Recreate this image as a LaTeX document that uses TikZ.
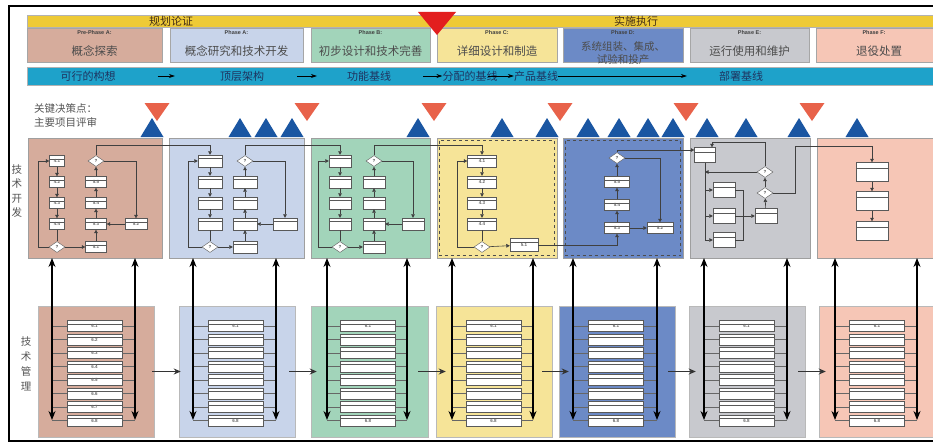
\documentclass[tikz,border=0pt]{standalone}
\usepackage{fontspec}
\setmainfont{Liberation Sans}
\newfontfamily\cjk{Noto Sans CJK SC}
\usepackage{xcolor}
\definecolor{phpre}{RGB}{214,172,156}
\definecolor{pha}{RGB}{200,212,234}
\definecolor{phb}{RGB}{162,212,186}
\definecolor{phc}{RGB}{246,228,152}
\definecolor{phd}{RGB}{108,138,198}
\definecolor{phe}{RGB}{200,201,206}
\definecolor{phf}{RGB}{246,198,182}
\definecolor{baryellow}{RGB}{238,202,54}
\definecolor{barblue}{RGB}{30,162,202}
\definecolor{kdpred}{RGB}{232,98,74}
\definecolor{kdpblue}{RGB}{26,86,162}
\definecolor{toptri}{RGB}{226,30,30}
\definecolor{bartext}{RGB}{30,52,96}
\definecolor{labgray}{RGB}{85,85,85}
\usetikzlibrary{arrows.meta, positioning, shapes.geometric, calc}

\tikzset{
  phasebox/.style={draw=gray!70, line width=0.5pt, minimum height=34pt, inner sep=0pt},
  phasetag/.style={font=\fontsize{5.5}{6}\selectfont\bfseries, text=black!75},
  phasename/.style={font=\cjk\fontsize{11.5}{13}\selectfont, text=black!70, align=center},
  bartxt/.style={font=\cjk\fontsize{11}{13}\selectfont, text=bartext, inner sep=0pt},
  devbox/.style={draw=gray!75, line width=0.6pt, minimum height=120pt, inner sep=0pt},
  mgtbox/.style={draw=gray!55, line width=0.5pt, minimum height=131pt, inner sep=0pt},
  flowbox/.style={draw=gray!70!black, fill=white, line width=0.4pt, inner sep=0pt,
    minimum width=22pt, minimum height=12pt, font=\fontsize{4.5}{5}\selectfont\bfseries, text=black!60,
    path picture={\draw[gray!70!black, line width=0.3pt]
      ($(path picture bounding box.north west)!0.3!(path picture bounding box.south west)$) --
      ($(path picture bounding box.north east)!0.3!(path picture bounding box.south east)$);}},
  flowdiam/.style={diamond, draw=gray!70!black, fill=white, line width=0.4pt, inner sep=0pt,
    minimum width=16pt, minimum height=11pt, font=\fontsize{4.5}{5}\selectfont\bfseries, text=black!70},
  flow/.style={draw=black!75, line width=0.6pt, -{Triangle[length=3.5pt, width=3.6pt]}},
  flowline/.style={draw=black!75, line width=0.6pt},
  mgtrow/.style={flowbox, minimum width=55pt, minimum height=11pt},
  rungline/.style={draw=black!60, line width=0.5pt},
  devarrow/.style={draw=black, line width=1.1pt, {Stealth[length=9pt, width=7pt]}-{Stealth[length=9pt, width=7pt]}},
  steparrow/.style={draw=black!80, line width=0.8pt, -{Stealth[length=7pt, width=6pt]}},
  bararrow/.style={draw=black, line width=0.6pt, -{Stealth[length=6pt, width=4pt]}},
  sidelab/.style={font=\cjk\fontsize{10.5}{14.5}\selectfont, text=labgray, align=center, inner sep=0pt}
}

\begin{document}
\begin{tikzpicture}[x=1pt, y=-1pt]
  \useasboundingbox (0,0) rectangle (933,444);
  \clip (0,0) rectangle (933,444);
  \fill[white] (0,0) rectangle (933,444);

  % Outer frame
  \draw[black, line width=1.6pt] (9,6) rectangle (948,441);

  % Stage bar
  \draw[fill=baryellow, draw=gray!60] (27,15) rectangle (948,27);
  \node[font=\cjk\fontsize{11}{12}\selectfont, text=black!65!brown, inner sep=0pt] (yb1) at (171,21) {规划论证};
  \node[font=\cjk\fontsize{11}{12}\selectfont, text=black!65!brown, inner sep=0pt] (yb2) at (636,21) {实施执行};

  % Phase headers
  \node[phasebox, fill=phpre, minimum width=135pt] (ph1) at (94.5,45) {};
  \node[phasebox, fill=pha, minimum width=133pt] (ph2) at (236.5,45) {};
  \node[phasebox, fill=phb, minimum width=119pt] (ph3) at (370.5,45) {};
  \node[phasebox, fill=phc, minimum width=120pt] (ph4) at (497,45) {};
  \node[phasebox, fill=phd, minimum width=120pt] (ph5) at (623,45) {};
  \node[phasebox, fill=phe, minimum width=119pt] (ph6) at (749.5,45) {};
  \node[phasebox, fill=phf, minimum width=129pt] (ph7) at (880.5,45) {};
  \node[phasetag] (pt1) at (94.5,33) {Pre-Phase A:};
  \node[phasetag] (pt2) at (236.5,33) {Phase A:};
  \node[phasetag] (pt3) at (370.5,33) {Phase B:};
  \node[phasetag] (pt4) at (497,33) {Phase C:};
  \node[phasetag] (pt5) at (623,33) {Phase D:};
  \node[phasetag] (pt6) at (749.5,33) {Phase E:};
  \node[phasetag] (pt7) at (874,33) {Phase F:};
  \node[phasename] (pn1) at (94.5,51) {概念探索};
  \node[phasename] (pn2) at (236.5,51) {概念研究和技术开发};
  \node[phasename] (pn3) at (370.5,51) {初步设计和技术完善};
  \node[phasename] (pn4) at (497,51) {详细设计和制造};
  \node[phasename, font=\cjk\fontsize{10.5}{13}\selectfont] (pn5) at (623,53.5) {系统组装、集成、\\试验和投产};
  \node[phasename] (pn6) at (749.5,51) {运行使用和维护};
  \node[phasename] (pn7) at (879,51) {退役处置};

  % Transition marker
  \fill[toptri] (418,12) -- (456,12) -- (437,35) -- cycle;

  % Baseline bar
  \draw[fill=barblue, draw=gray!60] (27,67) rectangle (948,85);
  \node[bartxt] (bl1) at (88,76) {可行的构想};
  \node[bartxt] (bl2) at (242,76) {顶层架构};
  \node[bartxt] (bl3) at (369,76) {功能基线};
  \node[bartxt] (bl4) at (470,76) {分配的基线};
  \node[bartxt] (bl5) at (536,76) {产品基线};
  \node[bartxt] (bl6) at (741,76) {部署基线};
  \draw[bararrow, shorten <=42pt, shorten >=45pt] (bl1) -- (bl2);
  \draw[bararrow, shorten <=33pt, shorten >=30pt] (bl2) -- (bl3);
  \draw[bararrow, shorten <=32pt] (bl3) -- (bl4);
  \draw[bararrow, shorten <=-10pt] (bl4) -- (bl5);
  \draw[bararrow, shorten >=32pt] (bl5) -- (bl6);

  % Key decision points
  \node[sidelab, anchor=west, align=left] (kdp) at (34,115.5) {关键决策点：\\主要项目评审};
  \foreach \x in {152,240,266,292,418,502,547,588,619,648,673,707,746,799,857}
    \fill[kdpblue] (\x-11.5,137) -- (\x+11.5,137) -- (\x,118) -- cycle;
  \foreach \x in {157,307,434,560,686,812}
    \fill[kdpred] (\x-12.5,103) -- (\x+12.5,103) -- (\x,121) -- cycle;

  % Side labels
  \node[sidelab] (lab1) at (17,191) {技\\术\\开\\发};
  \node[sidelab, font=\cjk\fontsize{10.5}{15}\selectfont] (lab2) at (26,364) {技\\术\\管\\理};

  % Technical development boxes
  \node[devbox, fill=phpre, minimum width=134pt] (ub1) at (95,198) {};
  \node[devbox, fill=pha, minimum width=135pt] (ub2) at (236.5,198) {};
  \node[devbox, fill=phb, minimum width=119pt] (ub3) at (370.5,198) {};
  \node[devbox, fill=phc, minimum width=120pt] (ub4) at (497,198) {};
  \node[devbox, fill=phd, minimum width=120pt] (ub5) at (623,198) {};
  \node[devbox, fill=phe, minimum width=120pt] (ub6) at (750,198) {};
  \node[devbox, fill=phf, minimum width=128pt] (ub7) at (881,198) {};
  \draw[black!70, dashed, line width=0.7pt] (439.5,140.5) rectangle (554.5,255.5);
  \draw[black!70, dashed, line width=0.7pt] (565.5,140.5) rectangle (680.5,255.5);

  % Pre-Phase A flow
  \node[flowbox, minimum width=15pt, minimum height=11pt] (a11) at (57,161) {4.1};
  \node[flowbox, minimum width=15pt, minimum height=11pt] (a12) at (57,182) {4.2};
  \node[flowbox, minimum width=15pt, minimum height=11pt] (a13) at (57,203) {4.3};
  \node[flowbox, minimum width=15pt, minimum height=11pt] (a14) at (57,224) {4.4};
  \node[flowdiam] (db1) at (57,247) {?};
  \node[flowbox, minimum width=21pt, minimum height=11pt] (r11) at (96,247) {5.1};
  \node[flowbox, minimum width=21pt, minimum height=11pt] (r13) at (96,224) {5.3};
  \node[flowbox, minimum width=21pt, minimum height=11pt] (r14) at (96,203) {5.4};
  \node[flowbox, minimum width=21pt, minimum height=11pt] (r15) at (96,182) {5.5};
  \node[flowdiam] (dt1) at (96,161) {?};
  \node[flowbox, minimum width=22pt, minimum height=11pt] (r12) at (136,224) {5.2};
  \draw[flow] (a11) -- (a12);
  \draw[flow] (a12) -- (a13);
  \draw[flow] (a13) -- (a14);
  \draw[flowline] (a14) -- (db1);
  \draw[flow] (db1) -- (r11);
  \draw[flow] (db1.west) -- ++(-11,0) |- (a11.west);
  \draw[flow] (r11) -- (r13);
  \draw[flow] (r13) -- (r14);
  \draw[flow] (r14) -- (r15);
  \draw[flow] (r15) -- (dt1);
  \draw[flow] (r12) -- (r13);
  \draw[flow] (dt1.east) -| (r12.north);

  % Phase A and Phase B flows
  \foreach \k/\xl/\xr/\xs/\w in {2/210/245/285/24, 3/340/374/413/22}{
    \foreach \i/\y in {1/161, 2/182, 3/203, 4/224}
      \node[flowbox, minimum width=\w] (a\k\i) at (\xl,\y) {};
    \node[flowdiam] (db\k) at (\xl,247) {?};
    \node[flowbox, minimum width=\w] (r\k1) at (\xr,247) {};
    \node[flowbox, minimum width=\w] (r\k3) at (\xr,224) {};
    \node[flowbox, minimum width=\w] (r\k4) at (\xr,203) {};
    \node[flowbox, minimum width=\w] (r\k5) at (\xr,182) {};
    \node[flowdiam] (dt\k) at (\xr,161) {?};
    \node[flowbox, minimum width=\w] (r\k2) at (\xs,224) {};
    \draw[flow] (a\k1) -- (a\k2);
    \draw[flow] (a\k2) -- (a\k3);
    \draw[flow] (a\k3) -- (a\k4);
    \draw[flowline] (a\k4) -- (db\k);
    \draw[flow] (db\k) -- (r\k1);
    \draw[flow] (db\k.west) -- ++(-14,0) |- (a\k1.west);
    \draw[flow] (r\k1) -- (r\k3);
    \draw[flow] (r\k3) -- (r\k4);
    \draw[flow] (r\k4) -- (r\k5);
    \draw[flow] (r\k5) -- (dt\k);
    \draw[flow] (r\k2) -- (r\k3);
    \draw[flow] (dt\k.east) -| (r\k2.north);
  }

  % Phase C flow
  \node[flowbox, minimum width=29pt] (c41) at (482,161) {4.1};
  \node[flowbox, minimum width=29pt] (c42) at (482,182) {4.2};
  \node[flowbox, minimum width=29pt] (c43) at (482,203) {4.3};
  \node[flowbox, minimum width=29pt] (c44) at (482,224) {4.4};
  \node[flowdiam] (db4) at (482,247) {?};
  \node[flowbox, minimum width=28pt, minimum height=13pt] (c51) at (524,245) {5.1};
  \draw[flow] (c41) -- (c42);
  \draw[flow] (c42) -- (c43);
  \draw[flow] (c43) -- (c44);
  \draw[flowline] (c44) -- (db4);
  \draw[flow] (db4) -- (c51);
  \draw[flow] (db4.west) -- ++(-17,0) |- (c41.west);

  % Phase D flow
  \node[flowbox, minimum width=25pt, minimum height=11pt] (g53) at (617,228) {5.3};
  \node[flowbox, minimum width=25pt, minimum height=11pt] (g54) at (617,205) {5.4};
  \node[flowbox, minimum width=25pt, minimum height=11pt] (g55) at (617,182) {5.5};
  \node[flowdiam] (dt5) at (617,158) {?};
  \node[flowbox, minimum width=26pt, minimum height=11pt] (g52) at (660,228) {5.2};
  \draw[flow] (c51.east) -| (g53.south);
  \draw[flow] (g53) -- (g54);
  \draw[flow] (g54) -- (g55);
  \draw[flow] (g55) -- (dt5);
  \draw[flow] (g53) -- (g52);
  \draw[flow] (dt5.east) -| (g52.north);

  % Phase E flow
  \node[flowbox, minimum width=21pt, minimum height=15pt] (e1) at (705,155) {};
  \node[flowbox, minimum width=22pt, minimum height=15pt] (e2) at (724,190) {};
  \node[flowbox, minimum width=22pt, minimum height=15pt] (e3) at (724,216) {};
  \node[flowbox, minimum width=22pt, minimum height=15pt] (e4) at (724,240) {};
  \node[flowbox, minimum width=22pt, minimum height=15pt] (e5) at (766,216) {};
  \node[flowdiam] (du6) at (765,172) {?};
  \node[flowdiam] (dl6) at (765,193) {?};
  \draw[flow] (dt5.north) |- ([yshift=5pt]e1.west);
  \draw[flowline] (e1.south) -- (e1.south |- e4.west);
  \draw[flow] (e2.west -| e1.south) -- (e2.west);
  \draw[flow] (e3.west -| e1.south) -- (e3.west);
  \draw[flow] (e4.west -| e1.south) -- (e4.west);
  \draw[flowline] (e2.east) -- ++(8,0) |- (e4.east);
  \draw[flow] (e3.east) -- (e5.west);
  \draw[flow] (e5) -- (dl6);
  \draw[flow] (dl6) -- (du6);
  \draw[flow] (du6.west) -- (du6.west -| e1.south);
  \draw[flow] (du6.north) -- ++(0,-24.5) -| ([xshift=7pt]e1.north);

  % Phase F flow
  \node[flowbox, minimum width=32pt, minimum height=19pt] (f1) at (872,172) {};
  \node[flowbox, minimum width=32pt, minimum height=19pt] (f2) at (872,201) {};
  \node[flowbox, minimum width=32pt, minimum height=19pt] (f3) at (872,231) {};
  \draw[flow] (dl6.east) -- ++(22,0) -- ++(0,-47) -| (f1.north);
  \draw[flow] (f1) -- (f2);
  \draw[flow] (f2) -- (f3);

  % Hand-over between phases
  \draw[flow] (dt1.north) -- ++(0,-10) -| (a21.north);
  \draw[flow] (dt2.north) -- ++(0,-10) -| (a31.north);
  \draw[flow] (dt3.north) -- ++(0,-10) -| (c41.north);

  % Technical management boxes
  \foreach \k/\col/\bx/\bw/\sx/\la/\lb in {1/phpre/96/116/94.5/52/135, 2/pha/237/116/235.5/193/276,
      3/phb/369.5/117/368/327/407, 4/phc/494/116/493.5/452/533, 5/phd/617/116/616/573/657,
      6/phe/747/116/746.5/704/787, 7/phf/884/130/877/835/917}{
    \node[mgtbox, fill=\col, minimum width=\bw] (lb\k) at (\bx,371.5) {};
    \coordinate (vt\k) at (\la,258);
    \coordinate (vb\k) at (\la,420);
    \coordinate (wt\k) at (\lb,258);
    \coordinate (wb\k) at (\lb,420);
    \foreach \i in {1,...,8}{
      \node[mgtrow] (m\k\i) at (\sx,{326+(\i-1)*13.5})
        {\ifnum\k=1 6.\i\else\ifnum\i=1 6.1\else\ifnum\i=8 6.8\fi\fi\fi};
      \draw[rungline] (m\k\i.west) -- (m\k\i.west -| vt\k);
      \draw[rungline] (m\k\i.east) -- (m\k\i.east -| wt\k);
    }
    \draw[devarrow] (vt\k) -- (vb\k);
    \draw[devarrow] (wt\k) -- (wb\k);
  }
  \foreach \i/\j/\s in {1/2/-2, 2/3/-6, 3/4/-10, 4/5/-10, 5/6/-7, 6/7/-7}
    \draw[steparrow, shorten <=\s pt, shorten >=\s pt] (lb\i.east) -- (lb\j.west);
\end{tikzpicture}
\end{document}
